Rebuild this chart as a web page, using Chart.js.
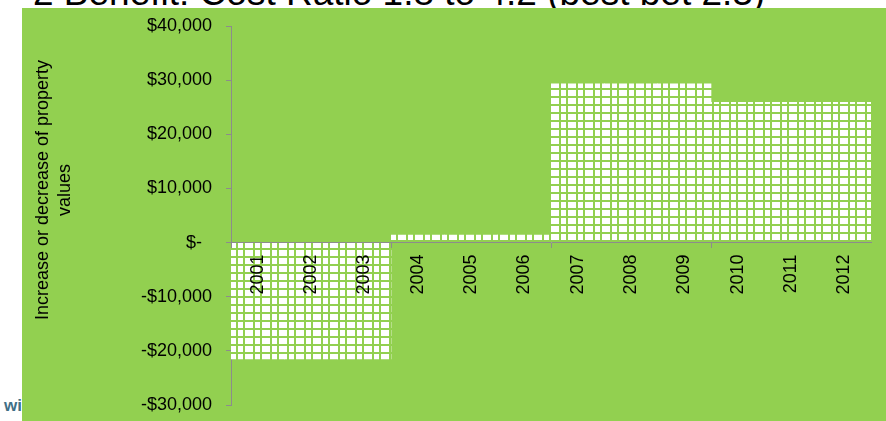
<!DOCTYPE html>
<html>
<head>
<meta charset="utf-8">
<script src="https://cdn.jsdelivr.net/npm/chart.js@4.4.1/dist/chart.umd.min.js"></script>
<style>
  html, body { margin: 0; padding: 0; background: #ffffff; width: 886px; height: 421px; overflow: hidden; }
  #title { position: absolute; left: 33px; top: -26px; font: 37px "Liberation Sans", Arial, sans-serif; line-height: 37px; color: #000; white-space: nowrap; z-index: 1; }
  #logo { position: absolute; left: 4px; top: 396px; font: bold 17px "Liberation Sans", Arial, sans-serif; color: #3f6f86; z-index: 1; }
  #panel { position: absolute; left: 22px; top: 8px; width: 864px; height: 413px; background: #92d050; z-index: 2; }
</style>
</head>
<body>
<div id="title">2 Benefit: Cost Ratio 1.8 to 4.2 (best bet 2.3)</div>
<div id="logo">wi</div>
<div id="panel"><canvas id="graphCanvas"></canvas></div>
<script>
var years = ['2001', '2002', '2003', '2004', '2005', '2006', '2007', '2008', '2009', '2010', '2011', '2012'];
var propertyChange = [-21500, -21500, -21500, 1400, 1400, 1400, 29300, 29300, 29300, 25900, 25900, 25900];
var yTicks = [-30000, -20000, -10000, 0, 10000, 20000, 30000, 40000];
var yTitle = ['Increase or decrease of property', 'values'];

var green = '#92d050';
var axisGray = '#8c8c8c';

function makePattern() {
    var c = document.createElement('canvas');
    c.width = 17;
    c.height = 8;
    var p = c.getContext('2d');
    p.fillStyle = '#ffffff';
    p.fillRect(0, 0, 17, 8);
    p.fillStyle = green;
    p.fillRect(0, 0, 2, 8);
    p.fillRect(10, 0, 2, 8);
    p.fillRect(0, 0, 17, 2);
    return p.createPattern(c, 'repeat');
}

function money(v) {
    if (v === 0) return '$-  ';
    var s = '$' + Math.abs(v).toLocaleString('en-US');
    return v < 0 ? '-' + s : s;
}

// y axis title drawn by hand so it can sit where the original has it
var yTitlePlugin = {
    id: 'yTitle',
    afterDraw: function(chart) {
        var ctx = chart.ctx;
        ctx.save();
        ctx.fillStyle = '#000';
        ctx.font = '18px "Liberation Sans", Arial, sans-serif';
        ctx.textAlign = 'center';
        ctx.textBaseline = 'middle';
        for (var i = 0; i < yTitle.length; i++) {
            ctx.save();
            ctx.translate(21 + i * 22, 182);
            ctx.rotate(-Math.PI / 2);
            ctx.fillText(yTitle[i], 0, 0);
            ctx.restore();
        }
        ctx.restore();
    }
};

function showGraph() {
    var chartdata = {
        labels: years,
        datasets: [{
            label: 'Property values',
            backgroundColor: makePattern(),
            borderWidth: 0,
            categoryPercentage: 1.0,
            barPercentage: 1.0,
            data: propertyChange
        }]
    };

    new Chart(document.getElementById('graphCanvas'), {
        type: 'bar',
        data: chartdata,
        plugins: [yTitlePlugin],
        options: {
            responsive: true,
            maintainAspectRatio: false,
            animation: false,
            layout: { padding: { left: 0, right: 15, top: 18, bottom: 16 } },
            plugins: {
                legend: { display: false },
                tooltip: { enabled: false }
            },
            scales: {
                x: {
                    position: { y: 0 },
                    offset: true,
                    grid: {
                        offset: true,
                        drawOnChartArea: false,
                        drawTicks: true,
                        tickLength: 5,
                        z: 1,
                        color: function(c) { return c.index % 3 === 0 ? axisGray : 'rgba(0,0,0,0)'; }
                    },
                    border: { display: true, color: axisGray, width: 1, z: 1 },
                    ticks: {
                        autoSkip: false,
                        minRotation: 90,
                        maxRotation: 90,
                        padding: 7,
                        z: 1,
                        color: '#000',
                        font: { family: '"Liberation Sans", Arial, sans-serif', size: 18 }
                    }
                },
                y: {
                    min: -30000,
                    max: 40000,
                    afterFit: function(scale) {
                        scale.width = 209;
                        scale.paddingTop = 8;
                        scale.paddingBottom = 8;
                    },
                    afterBuildTicks: function(scale) {
                        scale.ticks = yTicks.map(function(v) { return { value: v }; });
                    },
                    grid: {
                        drawOnChartArea: false,
                        drawTicks: true,
                        tickLength: 5,
                        color: axisGray
                    },
                    border: { display: true, color: axisGray, width: 1 },
                    ticks: {
                        padding: 14,
                        color: '#000',
                        font: { family: '"Liberation Sans", Arial, sans-serif', size: 18 },
                        callback: function(v) { return money(v); }
                    }
                }
            }
        }
    });
}

showGraph();
</script>
</body>
</html>
